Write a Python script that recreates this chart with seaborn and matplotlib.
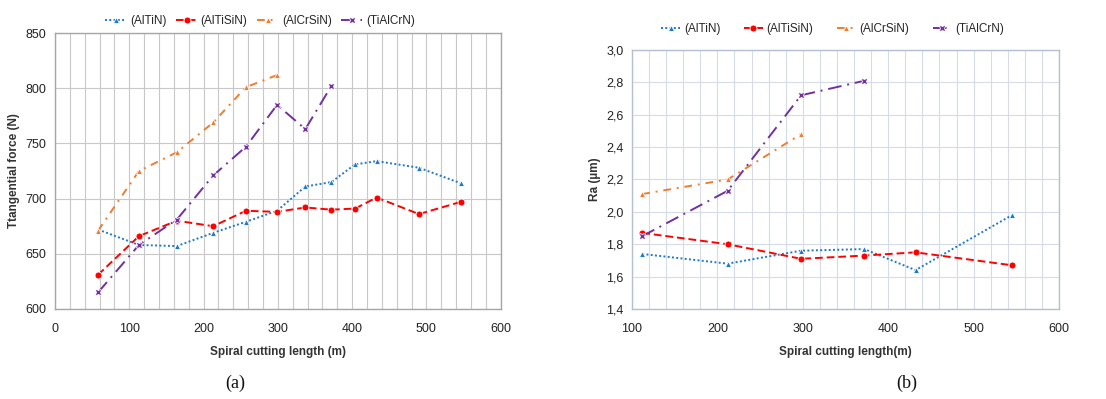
import matplotlib
matplotlib.use("Agg")
import matplotlib.pyplot as plt
import seaborn as sns
import pandas as pd
from matplotlib.ticker import MultipleLocator, FuncFormatter

# ---- data (a) ----
a_altin_x = [58, 113, 164, 213, 257, 299, 337, 372, 404, 433, 490, 546]
a_altin_y = [672, 658, 657, 669, 679, 689, 711, 715, 731, 734, 728, 714]
a_altisin_x = [58, 113, 164, 213, 257, 299, 337, 372, 404, 433, 490, 546]
a_altisin_y = [631, 666, 680, 675, 689, 688, 692, 690, 691, 701, 686, 697]
a_alcrsin_x = [58, 113, 164, 213, 257, 299]
a_alcrsin_y = [671, 725, 742, 769, 801, 812]
a_tialcrn_x = [58, 113, 164, 213, 257, 299, 337, 372]
a_tialcrn_y = [615, 658, 681, 721, 747, 785, 763, 802]

# ---- data (b) ----
b_altin_x = [112, 212, 298, 372, 432, 545]
b_altin_y = [1.74, 1.68, 1.76, 1.77, 1.64, 1.98]
b_altisin_x = [112, 212, 298, 372, 432, 545]
b_altisin_y = [1.87, 1.80, 1.71, 1.73, 1.75, 1.67]
b_alcrsin_x = [112, 212, 298]
b_alcrsin_y = [2.11, 2.20, 2.48]
b_tialcrn_x = [112, 212, 298, 372]
b_tialcrn_y = [1.85, 2.13, 2.72, 2.81]

series_names = ["(AlTiN)", "(AlTiSiN)", "(AlCrSiN)", "(TiAlCrN)"]
colors = {"(AlTiN)": "#1F78C8", "(AlTiSiN)": "#FF0000",
          "(AlCrSiN)": "#ED7D31", "(TiAlCrN)": "#7030A0"}
dashes = {"(AlTiN)": (1, 1.2), "(AlTiSiN)": (4, 2),
          "(AlCrSiN)": (4, 3, 1, 3), "(TiAlCrN)": (7, 3, 1, 3)}
markers = {"(AlTiN)": "^", "(AlTiSiN)": "o", "(AlCrSiN)": "^", "(TiAlCrN)": "X"}


def make_df(xs, ys):
    rows = []
    for name, x, y in zip(series_names, xs, ys):
        for xi, yi in zip(x, y):
            rows.append({"x": xi, "y": yi, "coat": name})
    return pd.DataFrame(rows)


df_a = make_df([a_altin_x, a_altisin_x, a_alcrsin_x, a_tialcrn_x],
               [a_altin_y, a_altisin_y, a_alcrsin_y, a_tialcrn_y])
df_b = make_df([b_altin_x, b_altisin_x, b_alcrsin_x, b_tialcrn_x],
               [b_altin_y, b_altisin_y, b_alcrsin_y, b_tialcrn_y])

sns.set_theme(style="white")
plt.rcParams['font.family'] = ['Liberation Sans', 'DejaVu Sans']

fig = plt.figure(figsize=(11.06, 3.99), dpi=100)
ax1 = fig.add_axes([0.0497, 0.2256, 0.4030, 0.6914])
ax2 = fig.add_axes([0.5714, 0.2256, 0.3861, 0.6491])


def draw(ax, df, gridcol, spinecol):
    sns.lineplot(data=df, x="x", y="y", hue="coat", style="coat",
                 palette=colors, dashes=dashes, markers=markers,
                 hue_order=series_names, style_order=series_names,
                 estimator=None, sort=False, ax=ax, linewidth=1.4,
                 markersize=5, markeredgewidth=0.6)
    ax.grid(True, which="both", color=gridcol, linewidth=0.8)
    ax.set_axisbelow(True)
    for s in ax.spines.values():
        s.set_color(spinecol)
        s.set_linewidth(1.0)
    ax.tick_params(axis="both", labelsize=9, length=0)
    ax.tick_params(axis="x", pad=10)
    ax.tick_params(axis="y", pad=6)
    for lab in ax.get_xticklabels() + ax.get_yticklabels():
        lab.set_color("#222222")


draw(ax1, df_a, "#C8C8C8", "#A6A6A6")
ax1.set_xlim(0, 600)
ax1.set_ylim(600, 850)
ax1.xaxis.set_major_locator(MultipleLocator(100))
ax1.xaxis.set_minor_locator(MultipleLocator(20))
ax1.yaxis.set_major_locator(MultipleLocator(50))
ax1.grid(False, which="minor", axis="y")
ax1.set_xlabel("Spiral cutting length (m)", fontsize=8.5, fontweight="bold",
               color="#333333", labelpad=8)
ax1.set_ylabel("Ttangential force (N)", fontsize=8.5, fontweight="bold", color="#333333")
h, l = ax1.get_legend_handles_labels()
ax1.legend(h, l, loc="lower center", bbox_to_anchor=(0.46, 1.0), ncol=4,
           frameon=False, fontsize=8.5, handlelength=1.8, columnspacing=0.8,
           handletextpad=0.3, borderaxespad=0.1)

draw(ax2, df_b, "#D5DCE8", "#B4BFCF")
ax2.set_xlim(100, 600)
ax2.set_ylim(1.4, 3.0)
ax2.xaxis.set_major_locator(MultipleLocator(100))
ax2.xaxis.set_minor_locator(MultipleLocator(20))
ax2.yaxis.set_major_locator(MultipleLocator(0.2))
ax2.grid(False, which="minor", axis="y")
ax2.yaxis.set_major_formatter(FuncFormatter(lambda v, p: f"{v:.1f}".replace(".", ",")))
ax2.set_xlabel("Spiral cutting length(m)", fontsize=8.5, fontweight="bold",
               color="#333333", labelpad=8)
ax2.set_ylabel("Ra (µm)", fontsize=8.5, fontweight="bold", color="#333333")
h, l = ax2.get_legend_handles_labels()
ax2.legend(h, l, loc="lower center", bbox_to_anchor=(0.47, 1.0), ncol=4,
           frameon=False, fontsize=8.5, handlelength=1.6, columnspacing=2.0,
           handletextpad=0.3, borderaxespad=0.9)

fig.text(235 / 1106, 1 - 383 / 399, "(a)", family="Liberation Serif", fontsize=13,
         ha="center", va="center", color="#111111")
fig.text(907 / 1106, 1 - 383 / 399, "(b)", family="Liberation Serif", fontsize=13,
         ha="center", va="center", color="#111111")

fig.savefig("out.png", dpi=100)
